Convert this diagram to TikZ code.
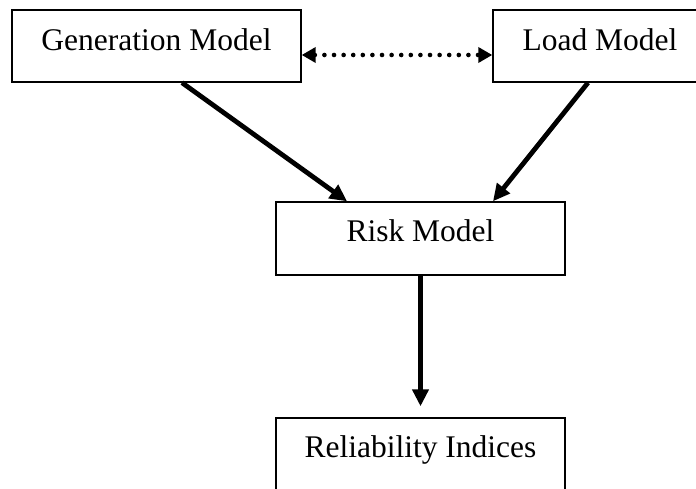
\documentclass[tikz,border=0pt]{standalone}
\usepackage{fontspec}
\setmainfont{Liberation Serif}
\usetikzlibrary{arrows.meta}

\tikzset{
    block/.style={draw, line width=1.4pt, minimum height=72pt, inner sep=0pt},
    flow/.style={line width=4.8pt, -{Triangle[length=17pt, width=16pt]}},
    dotflow/.style={line width=4.6pt, line cap=round, dash pattern=on 0pt off 9.6pt,
        {Triangle[length=14pt, width=15pt]}-{Triangle[length=14pt, width=15pt]}},
}

\begin{document}
\begin{tikzpicture}[x=1pt, y=1pt, font=\fontsize{31.5}{38}\selectfont]
    \clip (0,0) rectangle (696,489);

    % Generation model
    \node [block, minimum width=289pt] (gen) at (156.5,443) {};
    \node [anchor=base] (gentext) at ([yshift=-41pt]gen.north) {Generation Model};

    % Load model (cut at the right edge)
    \node [block, minimum width=214pt] (load) at (600,443) {};
    \node [anchor=base] (loadtext) at ([yshift=-41pt]load.north) {Load Model};

    % Risk model
    \node [block, minimum width=289pt, minimum height=73pt] (risk) at (420.5,250.5) {};
    \node [anchor=base] (risktext) at ([yshift=-40pt]risk.north) {Risk Model};

    % Reliability indices (cut at the bottom)
    \node [block, minimum width=289pt, minimum height=73pt] (rel) at (420.5,34.5) {};
    \node [anchor=base] (reltext) at ([yshift=-40pt]rel.north) {Reliability Indices};

    % Links
    \draw [dotflow] ([yshift=-9pt]gen.east) -- ([yshift=-9pt]load.west);
    \draw [flow] ([xshift=25.5pt]gen.south) -- ([xshift=-73.5pt]risk.north);
    \draw [flow] ([xshift=-12pt]load.south) -- ([xshift=72.5pt]risk.north);
    \draw [flow] (risk.south) -- ([yshift=11pt]rel.north);
\end{tikzpicture}
\end{document}
